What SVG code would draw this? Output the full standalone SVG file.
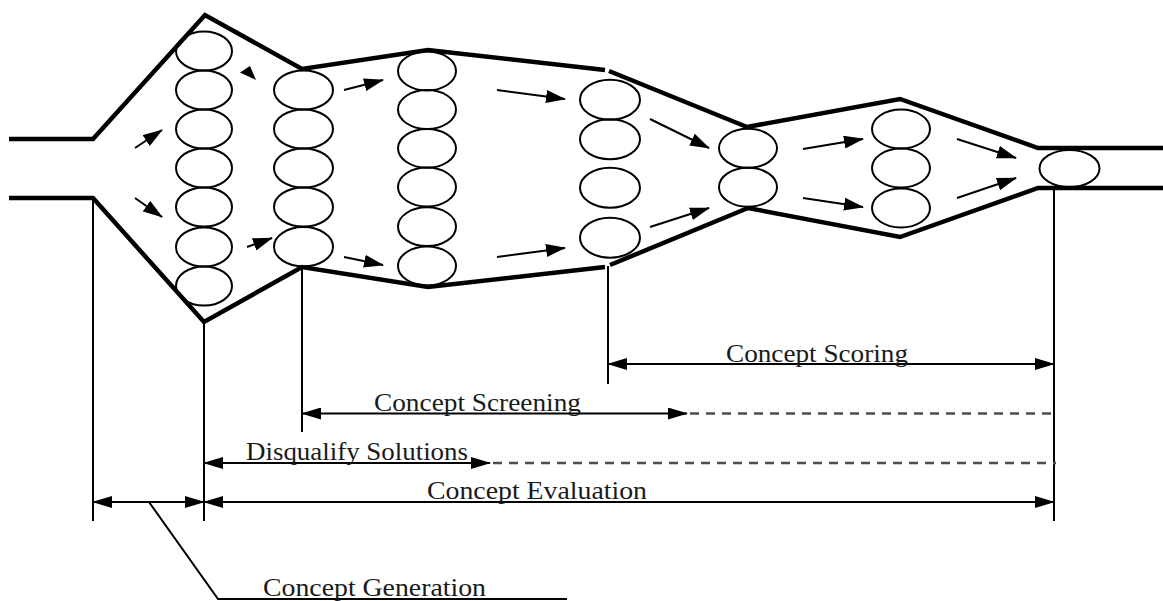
<svg xmlns="http://www.w3.org/2000/svg" width="1163" height="601" viewBox="0 0 1163 601">
  <style>
    .wall { fill: none; stroke: #000; stroke-width: 4.5; stroke-linejoin: miter; }
    .cell { fill: none; stroke: #000; stroke-width: 2; }
    .flow { fill: none; stroke: #000; stroke-width: 2; marker-end: url(#head); }
    .tick { fill: none; stroke: #000; stroke-width: 2; }
    .dim { fill: none; stroke: #000; stroke-width: 2; marker-start: url(#dimhead); marker-end: url(#dimhead); }
    .ext { fill: none; stroke: #4d4d4d; stroke-width: 2.6; stroke-dasharray: 9 7; }
    .label { font-family: "Liberation Serif", "Times New Roman", serif; font-size: 26px; fill: #1a1a1a; }
  </style>
  <defs>
    <marker id="head" viewBox="0 0 20 13" refX="19" refY="6.5" markerWidth="20" markerHeight="13" markerUnits="userSpaceOnUse" orient="auto">
      <path d="M0,0 L20,6.5 L0,13 z" fill="#000"/>
    </marker>
    <marker id="dimhead" viewBox="0 0 20 12" refX="19" refY="6" markerWidth="20" markerHeight="12" markerUnits="userSpaceOnUse" orient="auto-start-reverse">
      <path d="M0,0 L20,6 L0,12 z" fill="#000"/>
    </marker>
  </defs>

  <!-- funnel walls -->
  <g id="funnel">
    <path class="wall" d="M9,139 L93,139 L205,15 L302,69 L428,50 L605,70"/>
    <path class="wall" d="M609,71 L747,127 L900,99 L1038,148 L1163,148"/>
    <path class="wall" d="M9,198 L93,198 L204,322 L302,267 L428,287 L605,267"/>
    <path class="wall" d="M610,265 L748,208 L900,237 L1038,188 L1163,188"/>
  </g>

  <!-- concept stages -->
  <g id="stage1">
    <ellipse class="cell" cx="204" cy="51" rx="28" ry="19.6"/>
    <ellipse class="cell" cx="204" cy="90" rx="28" ry="19.6"/>
    <ellipse class="cell" cx="204" cy="129" rx="28" ry="19.6"/>
    <ellipse class="cell" cx="204" cy="168" rx="28" ry="19.6"/>
    <ellipse class="cell" cx="204" cy="207" rx="28" ry="19.6"/>
    <ellipse class="cell" cx="204" cy="247" rx="28" ry="19.6"/>
    <ellipse class="cell" cx="204" cy="286" rx="28" ry="19.6"/>
  </g>
  <g id="stage2">
    <ellipse class="cell" cx="303.5" cy="90" rx="29.5" ry="19.6"/>
    <ellipse class="cell" cx="303.5" cy="129" rx="29.5" ry="19.6"/>
    <ellipse class="cell" cx="303.5" cy="168" rx="29.5" ry="19.6"/>
    <ellipse class="cell" cx="303.5" cy="207" rx="29.5" ry="19.6"/>
    <ellipse class="cell" cx="303.5" cy="246.7" rx="29.5" ry="19.6"/>
  </g>
  <g id="stage3">
    <ellipse class="cell" cx="427" cy="71" rx="29" ry="19.4"/>
    <ellipse class="cell" cx="427" cy="109.5" rx="29" ry="19.4"/>
    <ellipse class="cell" cx="427" cy="148.3" rx="29" ry="19.4"/>
    <ellipse class="cell" cx="427" cy="187" rx="29" ry="19.4"/>
    <ellipse class="cell" cx="427" cy="226.7" rx="29" ry="19.4"/>
    <ellipse class="cell" cx="427" cy="266" rx="29" ry="19.4"/>
  </g>
  <g id="stage4">
    <ellipse class="cell" cx="610" cy="99.7" rx="30" ry="20"/>
    <ellipse class="cell" cx="610" cy="139.3" rx="30" ry="20"/>
    <ellipse class="cell" cx="610" cy="187.7" rx="30" ry="20"/>
    <ellipse class="cell" cx="610" cy="237.7" rx="30" ry="20"/>
  </g>
  <g id="stage5">
    <ellipse class="cell" cx="748" cy="148.3" rx="29" ry="19.5"/>
    <ellipse class="cell" cx="748" cy="187.2" rx="29" ry="19.5"/>
  </g>
  <g id="stage6">
    <ellipse class="cell" cx="901" cy="129" rx="29" ry="19.5"/>
    <ellipse class="cell" cx="901" cy="168" rx="29" ry="19.5"/>
    <ellipse class="cell" cx="901" cy="208" rx="29" ry="19.5"/>
  </g>
  <g id="stage7">
    <ellipse class="cell" cx="1069.5" cy="168.5" rx="30" ry="18.5"/>
  </g>

  <!-- flow arrows between stages -->
  <g id="connectors">
    <line class="flow" x1="135" y1="148" x2="162" y2="130"/>
    <line class="flow" x1="135" y1="198" x2="162" y2="217"/>
    <polygon points="240,72.5 250,66 256,80" fill="#000"/>
    <line class="flow" x1="247" y1="247" x2="272" y2="238"/>
    <line class="flow" x1="344" y1="90" x2="383" y2="80"/>
    <line class="flow" x1="344" y1="257" x2="383" y2="265"/>
    <line class="flow" x1="497" y1="90" x2="565" y2="99"/>
    <line class="flow" x1="497" y1="257" x2="565" y2="248"/>
    <line class="flow" x1="650" y1="119" x2="709" y2="148"/>
    <line class="flow" x1="650" y1="227" x2="709" y2="208"/>
    <line class="flow" x1="803" y1="149" x2="863" y2="139"/>
    <line class="flow" x1="803" y1="198" x2="863" y2="207"/>
    <line class="flow" x1="957" y1="139" x2="1016" y2="158"/>
    <line class="flow" x1="957" y1="198" x2="1016" y2="178"/>
  </g>

  <!-- extension lines -->
  <g id="extensions">
    <line class="tick" x1="93" y1="198" x2="93" y2="521"/>
    <line class="tick" x1="204" y1="323" x2="204" y2="521"/>
    <line class="tick" x1="302" y1="267" x2="302" y2="432"/>
    <line class="tick" x1="608" y1="266" x2="608" y2="384"/>
    <line class="tick" x1="1054" y1="188" x2="1054" y2="521"/>
  </g>

  <!-- phase spans -->
  <g id="scoring">
    <line class="dim" x1="608" y1="364" x2="1054" y2="364"/>
    <text class="label" x="726" y="362" textLength="182" lengthAdjust="spacingAndGlyphs">Concept Scoring</text>
  </g>
  <g id="screening">
    <line class="dim" x1="302" y1="413.5" x2="687" y2="413.5"/>
    <line class="ext" x1="690" y1="413.5" x2="1056" y2="413.5"/>
    <text class="label" x="374" y="411" textLength="207" lengthAdjust="spacingAndGlyphs">Concept Screening</text>
  </g>
  <g id="disqualify">
    <line class="dim" x1="204" y1="463" x2="490" y2="463"/>
    <line class="ext" x1="493" y1="463" x2="1056" y2="463"/>
    <text class="label" x="246" y="460" textLength="222" lengthAdjust="spacingAndGlyphs">Disqualify Solutions</text>
  </g>
  <g id="evaluation">
    <line class="dim" x1="204" y1="502" x2="1054" y2="502"/>
    <text class="label" x="427" y="499" textLength="220" lengthAdjust="spacingAndGlyphs">Concept Evaluation</text>
  </g>
  <g id="generation">
    <line class="dim" x1="93" y1="502" x2="204" y2="502"/>
    <path class="tick" d="M149,502 L218,599 L567,599"/>
    <text class="label" x="263" y="596" textLength="223" lengthAdjust="spacingAndGlyphs">Concept Generation</text>
  </g>
</svg>
